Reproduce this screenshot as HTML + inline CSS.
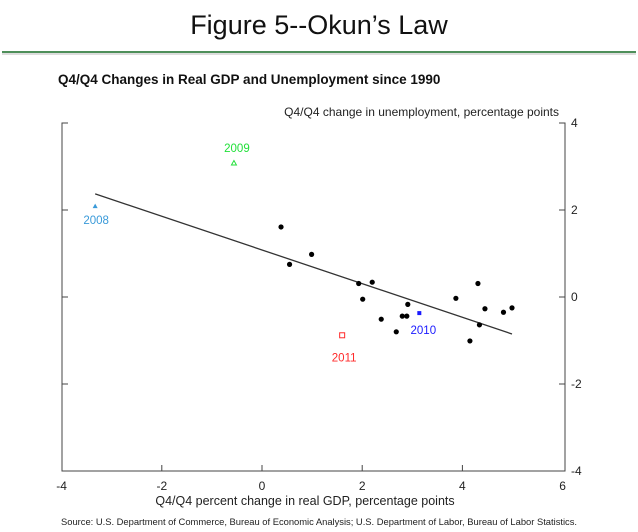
<!DOCTYPE html>
<html><head><meta charset="utf-8"><style>
body{margin:0;background:#fff;width:638px;height:532px;overflow:hidden;font-family:"Liberation Sans",sans-serif}
svg{display:block}
</style></head><body>
<svg width="638" height="532">
<text x="319" y="34" text-anchor="middle" font-size="27" fill="#111">Figure 5--Okun’s Law</text>
<rect x="2" y="52" width="634" height="3" fill="#bbb" opacity="0.5"/>
<rect x="2" y="51" width="634" height="2" fill="#4e8f5a"/>
<text x="58" y="84" font-size="13.5" font-weight="bold" fill="#111">Q4/Q4 Changes in Real GDP and Unemployment since 1990</text>
<text x="559" y="116" text-anchor="end" font-size="12" fill="#222">Q4/Q4 change in unemployment, percentage points</text>
<g id="frame" stroke="#444" stroke-width="1" fill="none">
<path d="M68,123H62V471H565V123H559"/>
</g>
<g id="axes"></g>
<g id="marks"></g>
<text x="305" y="505" text-anchor="middle" font-size="12.5" fill="#222">Q4/Q4 percent change in real GDP, percentage points</text>
<text x="61" y="525" font-size="9.4" fill="#222" textLength="516">Source:  U.S. Department of Commerce, Bureau of Economic Analysis; U.S. Department of Labor, Bureau of Labor Statistics.</text>
</svg>
<script>
const xTicks=[-4,-2,0,2,4,6];
const yTicks=[4,2,0,-2,-4];
const gdp=[0.38,0.55,0.99,1.93,2.20,2.01,2.38,2.68,2.80,2.89,2.91,3.87,4.31,4.45,4.34,4.15,4.82,4.99];
const unemp=[1.61,0.75,0.98,0.31,0.34,-0.05,-0.51,-0.80,-0.44,-0.44,-0.17,-0.03,0.31,-0.27,-0.64,-1.01,-0.35,-0.25];
const specialYears=["2008","2009","2010","2011"];
const specialGdp=[-3.33,-0.56,3.14,1.60];
const specialUnemp=[2.09,3.08,-0.37,-0.88];
const fitX=[-3.33,4.99];
const fitY=[2.37,-0.85];
const NS="http://www.w3.org/2000/svg";
const X=v=>262+v*50.1, Y=v=>297-v*43.5;
function mk(t,a,p){const e=document.createElementNS(NS,t);for(const k in a)e.setAttribute(k,a[k]);p.appendChild(e);return e;}
const ax=document.getElementById('axes'),mg=document.getElementById('marks');
xTicks.forEach(v=>{
 if(v>-4&&v<6){const l=mk('line',{x1:X(v),x2:X(v),y1:471,y2:465,stroke:'#444'},ax);
 
 }
 const t=mk('text',{x:X(v),y:490,'text-anchor':'middle','font-size':12,fill:'#222'},ax);t.textContent=v;
 
 
});
yTicks.forEach(v=>{
 if(v<4&&v>-4){const a=mk('line',{x1:62,x2:68,y1:Y(v),y2:Y(v),stroke:'#444'},ax);
 
 
 const b=mk('line',{x1:559,x2:565,y1:Y(v),y2:Y(v),stroke:'#444'},ax);
 
 }
 const t=mk('text',{x:571,y:Y(v)+4,'font-size':12,fill:'#222'},ax);t.textContent=v;
 
 
});
const fl=mk('line',{x1:X(fitX[0]),y1:Y(fitY[0]),x2:X(fitX[1]),y2:Y(fitY[1]),stroke:'#333','stroke-width':1.3},mg);


gdp.forEach((g,i)=>{const c=mk('circle',{cx:X(g),cy:Y(unemp[i]),r:2.6,fill:'#000'},mg);
 
 });
const cols=['#3a9ad9','#22e03a','#1a1aff','#ff2a2a'];
specialYears.forEach((yr,i)=>{
 const x=X(specialGdp[i]),y=Y(specialUnemp[i]);let m;
 if(i===0) m=mk('path',{d:`M${x-2.5},${y+2}L${x+2.5},${y+2}L${x},${y-2.5}Z`,fill:cols[i]},mg);
 else if(i===1) m=mk('path',{d:`M${x-2.5},${y+2}L${x+2.5},${y+2}L${x},${y-2.5}Z`,fill:'none',stroke:cols[i]},mg);
 else if(i===2) m=mk('rect',{x:x-2,y:y-2,width:4,height:4,fill:cols[i]},mg);
 else m=mk('rect',{x:x-2.5,y:y-2.5,width:5,height:5,fill:'none',stroke:cols[i]},mg);
 
 
 const off=[[1,18],[3,-11],[4,21],[2,26]][i];
 const t=mk('text',{x:x+off[0],y:y+off[1],'text-anchor':'middle','font-size':11.5,fill:cols[i]},mg);t.textContent=yr;
 
 
});
</script>
</body></html>
